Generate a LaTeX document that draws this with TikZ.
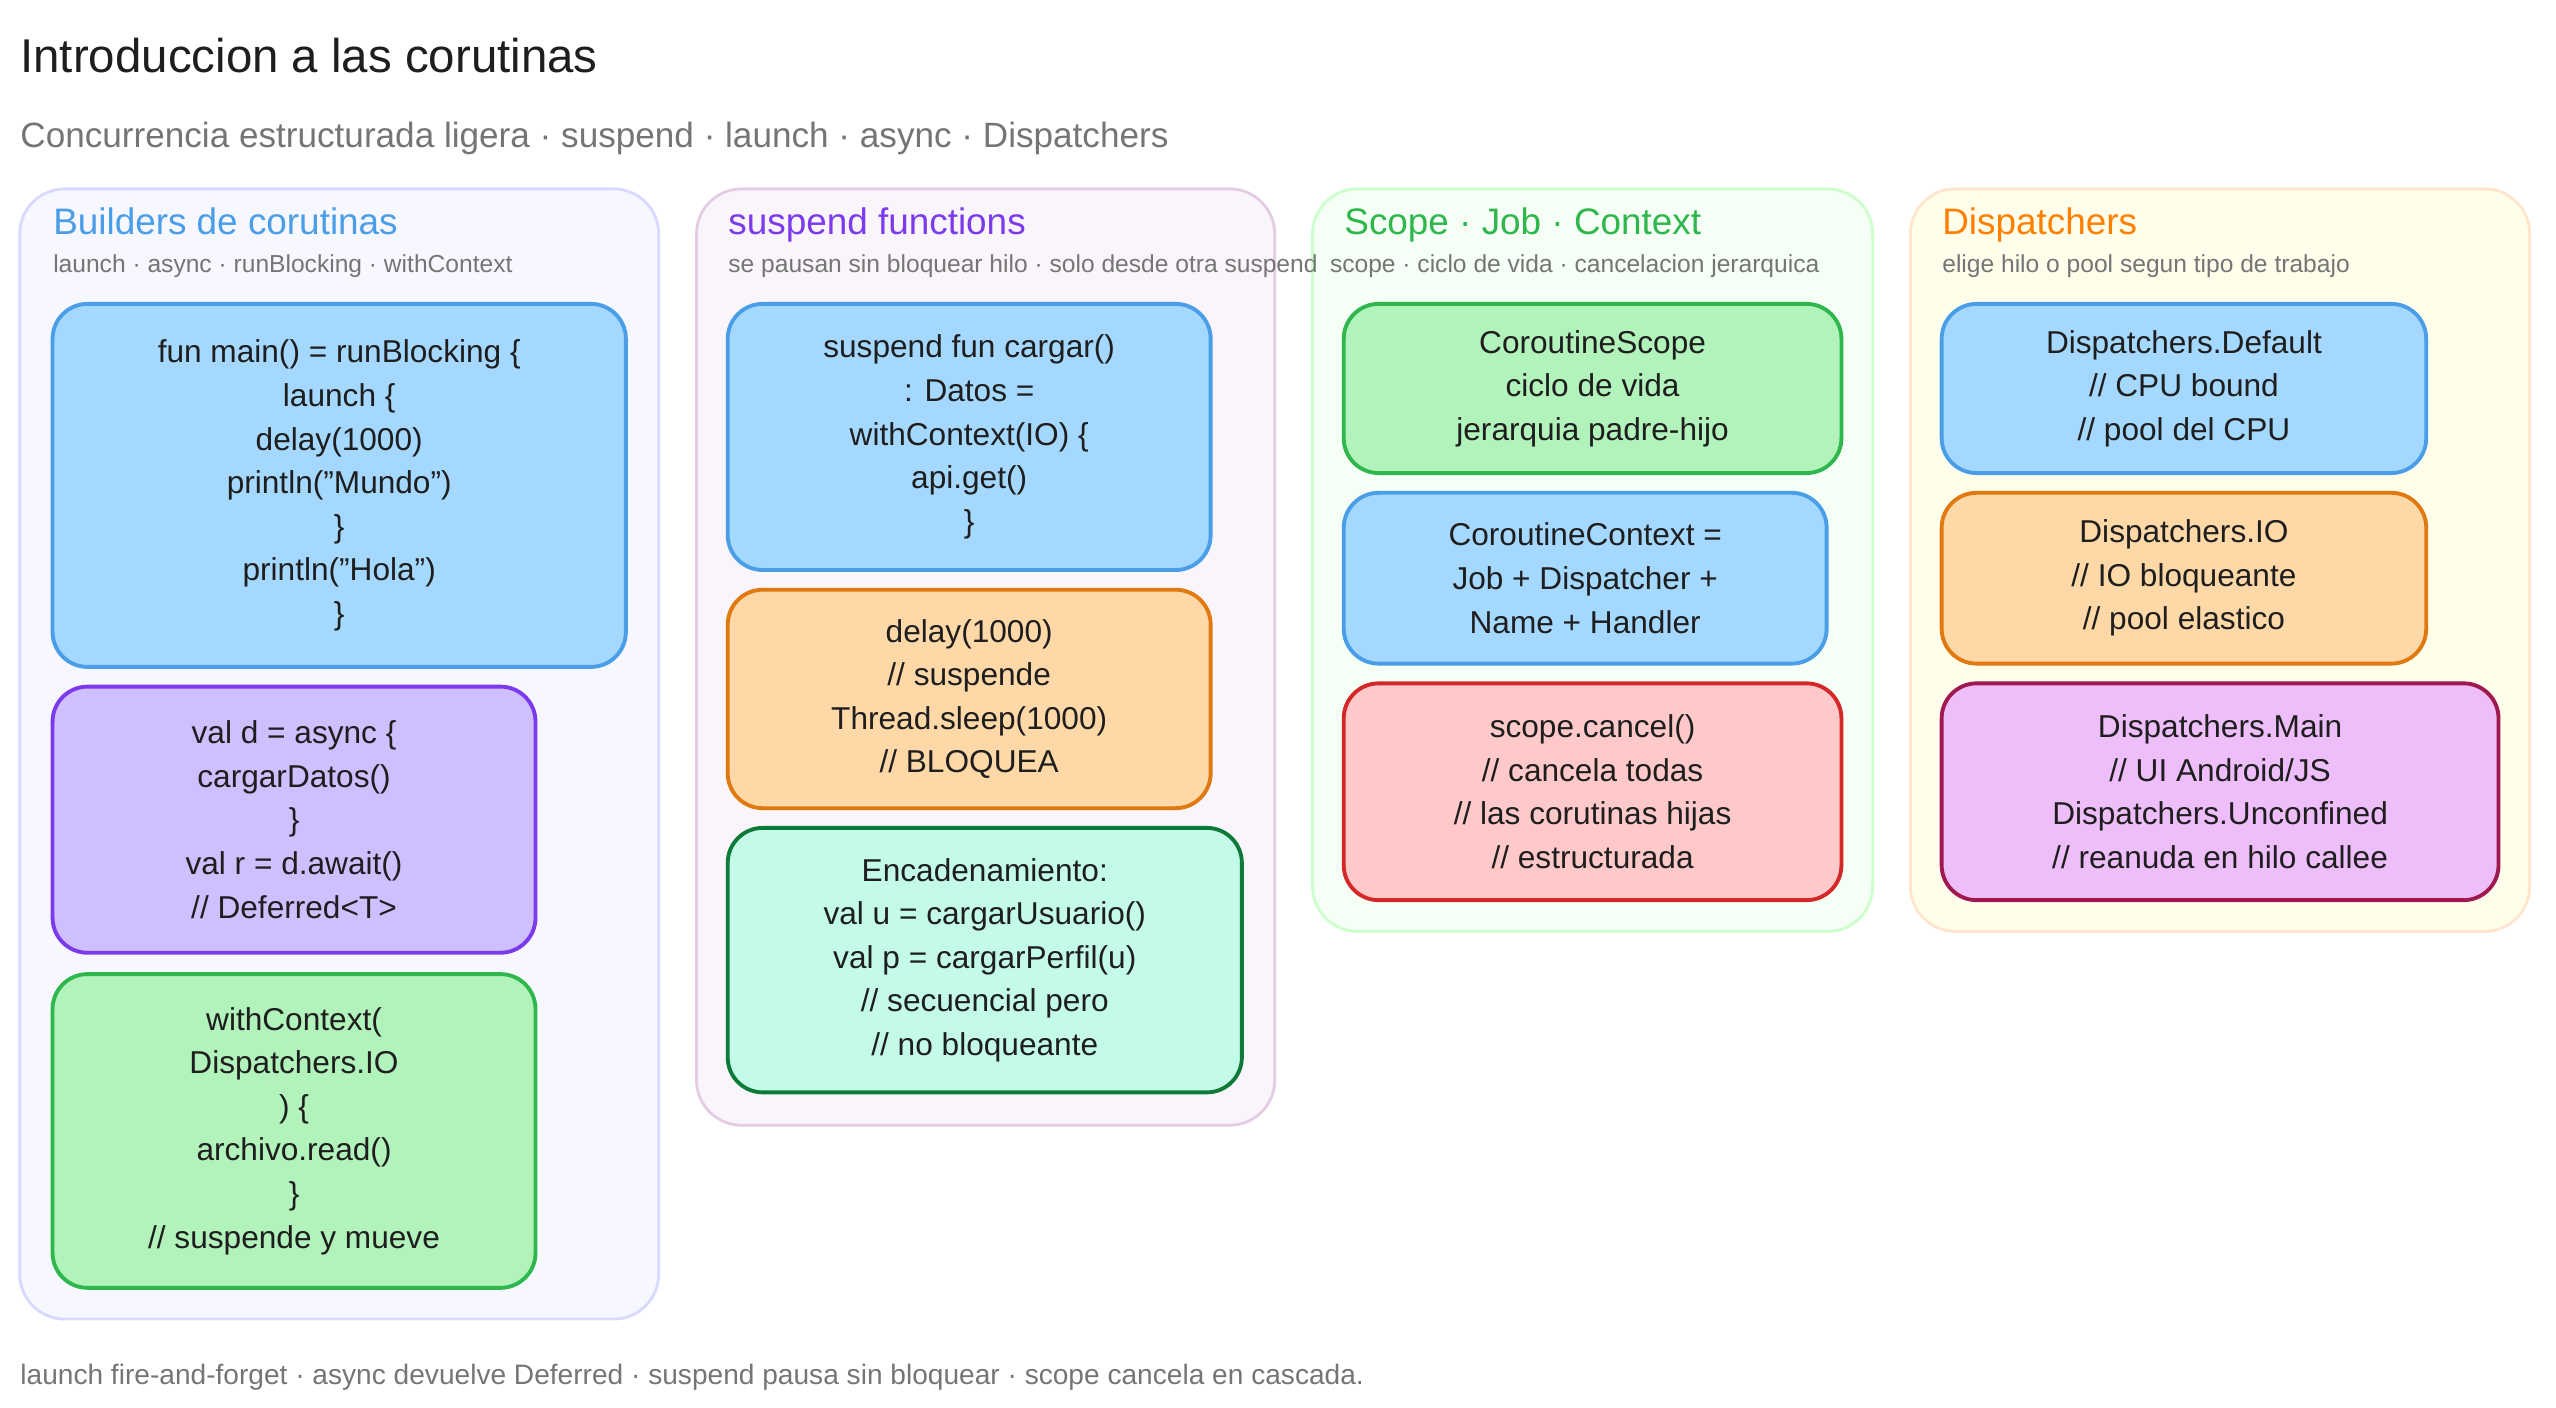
\documentclass[tikz,border=0pt]{standalone}
\usepackage{fontspec}
\setmainfont{Liberation Sans}
\usetikzlibrary{calc}
\definecolor{ttl}{HTML}{1E1E1E}
\definecolor{sub}{HTML}{757575}
\definecolor{bluef}{HTML}{A5D8FF}\definecolor{blued}{HTML}{4A9EE8}
\definecolor{purf}{HTML}{D0BFFF}\definecolor{purd}{HTML}{7C3AED}
\definecolor{grnf}{HTML}{B2F2BB}\definecolor{grnd}{HTML}{2FB74E}
\definecolor{orgf}{HTML}{FFD8A8}\definecolor{orgd}{HTML}{E07A10}
\definecolor{tealf}{HTML}{C3FAE8}\definecolor{teald}{HTML}{0E7A3A}
\definecolor{redf}{HTML}{FFC9C9}\definecolor{redd}{HTML}{D42828}
\definecolor{pinkf}{HTML}{EEBEFA}\definecolor{pinkd}{HTML}{A01850}
\tikzset{
  panel/.style={rounded corners=0.45cm, line width=0.8pt},
  card/.style={rounded corners=0.35cm, line width=1.1pt},
  code/.style={align=center, text=ttl, font=\fontsize{9}{12.4}\selectfont},
  head/.style={anchor=base west, inner sep=0pt, font=\fontsize{10.5}{12}\selectfont},
  note/.style={anchor=base west, inner sep=0pt, text=sub, font=\fontsize{7}{8}\selectfont},
}
% card: name, corner 1, corner 2, colours, text
\newcommand\card[5]{%
  \draw[card, fill=#4f, draw=#4d] (#2) rectangle (#3);
  \node[code] (#1) at ($(#2)!.5!(#3)$) {#5};}
\begin{document}
\begin{tikzpicture}[x=0.01643cm, y=-0.01643cm]
\useasboundingbox (0,0) rectangle (1556,857);
\node[anchor=base west, inner sep=0pt, text=ttl, font=\fontsize{13.5}{16}\selectfont] (title) at (12,44) {Introduccion a las corutinas};
\node[anchor=base west, inner sep=0pt, text=sub, font=\fontsize{10}{12}\selectfont] (subtitle) at (12,90) {Concurrencia estructurada ligera · suspend · launch · async · Dispatchers};

% panels
\draw[panel, fill=blue!3, draw=blue!15] (12,115) rectangle (401,803);
\draw[panel, fill=violet!4, draw=violet!20] (424,115) rectangle (776,685);
\draw[panel, fill=green!4, draw=green!20] (799,115) rectangle (1140,567);
\draw[panel, fill=yellow!8, draw=orange!20] (1163,115) rectangle (1540,567);

\node[head, text=blued] (h1) at (32,143) {Builders de corutinas};
\node[note] (n1) at (32,166) {launch · async · runBlocking · withContext};
\node[head, text=purd] (h2) at (443,143) {suspend functions};
\node[note] (n2) at (443,166) {se pausan sin bloquear hilo · solo desde otra suspend};
\node[head, text=grnd] (h3) at (818,143) {Scope · Job · Context};
\node[note, anchor=base east] (n3) at (1108,166) {scope · ciclo de vida · cancelacion jerarquica};
\node[head, text=orange] (h4) at (1182,143) {Dispatchers};
\node[note] (n4) at (1182,166) {elige hilo o pool segun tipo de trabajo};

% builders
\card{runb}{32,185}{381,406}{blue}{fun main() = runBlocking \{\\launch \{\\delay(1000)\\println("Mundo")\\\}\\println("Hola")\\\}}
\card{async}{32,418}{326,580}{pur}{val d = async \{\\cargarDatos()\\\}\\val r = d.await()\\// Deferred<T>}
\card{withc}{32,593}{326,784}{grn}{withContext(\\Dispatchers.IO\\) \{\\archivo.read()\\\}\\// suspende y mueve}
% suspend
\card{cargar}{443,185}{737,347}{blue}{suspend fun cargar()\\: Datos =\\withContext(IO) \{\\api.get()\\\}}
\card{delay}{443,359}{737,492}{org}{delay(1000)\\// suspende\\Thread.sleep(1000)\\// BLOQUEA}
\card{chain}{443,504}{756,665}{teal}{Encadenamiento:\\val u = cargarUsuario()\\val p = cargarPerfil(u)\\// secuencial pero\\// no bloqueante}
% scope
\card{scope}{818,185}{1121,288}{grn}{CoroutineScope\\ciclo de vida\\jerarquia padre-hijo}
\card{ctx}{818,300}{1112,404}{blue}{CoroutineContext =\\Job + Dispatcher +\\Name + Handler}
\card{cancel}{818,416}{1121,548}{red}{scope.cancel()\\// cancela todas\\// las corutinas hijas\\// estructurada}
% dispatchers
\card{dflt}{1182,185}{1477,288}{blue}{Dispatchers.Default\\// CPU bound\\// pool del CPU}
\card{io}{1182,300}{1477,404}{org}{Dispatchers.IO\\// IO bloqueante\\// pool elastico}
\card{main}{1182,416}{1521,548}{pink}{Dispatchers.Main\\// UI Android/JS\\Dispatchers.Unconfined\\// reanuda en hilo callee}

\node[anchor=base west, inner sep=0pt, text=sub, font=\fontsize{8}{10}\selectfont] (footer) at (12,843) {launch fire-and-forget · async devuelve Deferred · suspend pausa sin bloquear · scope cancela en cascada.};
\end{tikzpicture}
\end{document}
